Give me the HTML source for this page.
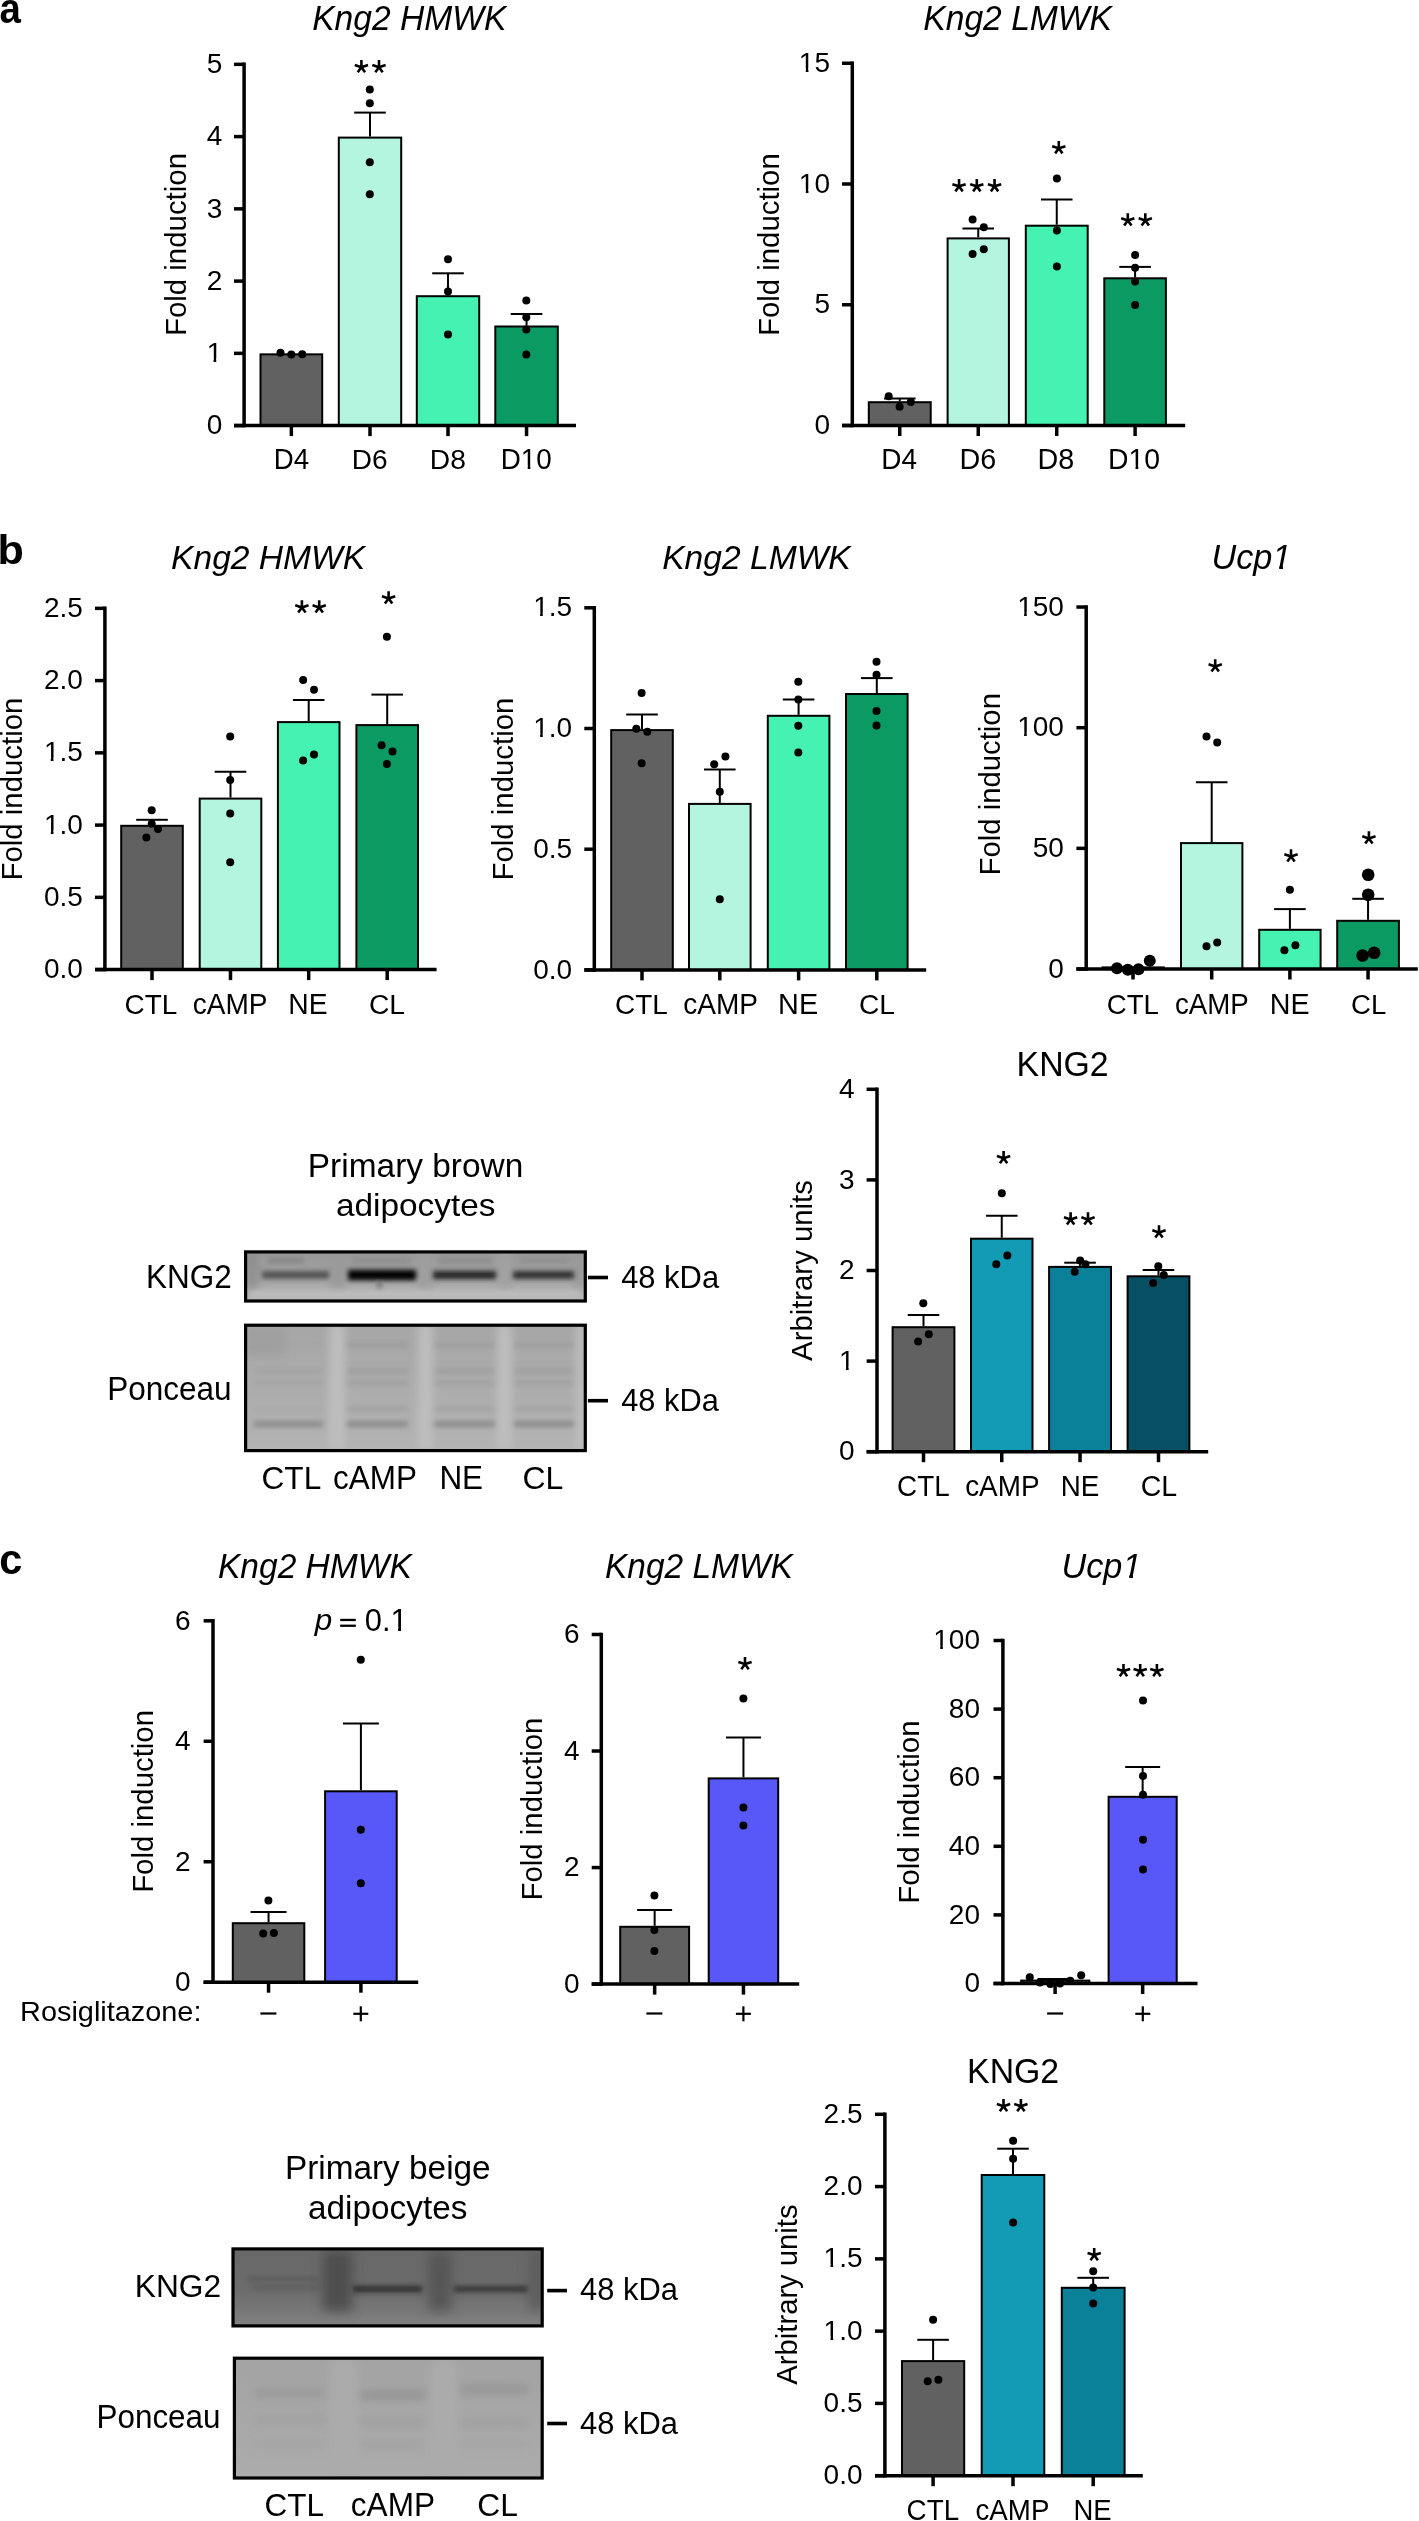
<!DOCTYPE html>
<html><head><meta charset="utf-8"><style>
html,body{margin:0;padding:0;background:#fff;}
svg{display:block;will-change:transform;}
text{font-family:"Liberation Sans",sans-serif;fill:#000;}
</style></head><body>
<svg width="1419" height="2521" viewBox="0 0 1419 2521">
<rect width="1419" height="2521" fill="#fff"/>
<text transform="translate(-0.59,23.10) scale(0.9133,1)" font-size="42.04" font-weight="bold">a</text>
<text transform="translate(-2.61,563.50) scale(1.0573,1)" font-size="40.83" font-weight="bold">b</text>
<text transform="translate(-0.81,1573.60) scale(0.9840,1)" font-size="42.22" font-weight="bold">c</text>
<rect x="260.50" y="354.35" width="61.70" height="71.25" fill="#616161" stroke="#000" stroke-width="2"/>
<rect x="338.80" y="137.60" width="62.40" height="288.00" fill="#b4f5df" stroke="#000" stroke-width="2"/>
<rect x="416.80" y="296.20" width="62.40" height="129.40" fill="#45f2b1" stroke="#000" stroke-width="2"/>
<rect x="495.30" y="326.50" width="62.50" height="99.10" fill="#0c9a63" stroke="#000" stroke-width="2"/>
<line x1="370.00" y1="136.60" x2="370.00" y2="112.60" stroke="#000" stroke-width="2"/>
<line x1="354.20" y1="112.60" x2="385.80" y2="112.60" stroke="#000" stroke-width="2"/>
<line x1="448.00" y1="295.20" x2="448.00" y2="273.30" stroke="#000" stroke-width="2"/>
<line x1="432.20" y1="273.30" x2="463.80" y2="273.30" stroke="#000" stroke-width="2"/>
<line x1="526.55" y1="325.50" x2="526.55" y2="313.90" stroke="#000" stroke-width="2"/>
<line x1="510.75" y1="313.90" x2="542.35" y2="313.90" stroke="#000" stroke-width="2"/>
<circle cx="280.50" cy="352.80" r="4"/>
<circle cx="291.30" cy="354.40" r="4"/>
<circle cx="302.20" cy="354.20" r="4"/>
<circle cx="369.80" cy="89.40" r="4"/>
<circle cx="369.80" cy="103.30" r="4"/>
<circle cx="369.80" cy="162.30" r="4"/>
<circle cx="369.80" cy="194.30" r="4"/>
<circle cx="448.00" cy="259.30" r="4"/>
<circle cx="448.00" cy="291.40" r="4"/>
<circle cx="448.00" cy="334.60" r="4"/>
<circle cx="526.30" cy="300.60" r="4"/>
<circle cx="526.30" cy="317.20" r="4"/>
<circle cx="526.30" cy="329.60" r="4"/>
<circle cx="526.30" cy="354.40" r="4"/>
<line x1="244.10" y1="62.60" x2="244.10" y2="427.35" stroke="#000" stroke-width="3.5"/>
<line x1="234.00" y1="425.60" x2="244.10" y2="425.60" stroke="#000" stroke-width="3.5"/>
<text transform="translate(206.64,434.36)" font-size="28.00">0</text>
<line x1="234.00" y1="353.35" x2="244.10" y2="353.35" stroke="#000" stroke-width="3.5"/>
<g transform="translate(206.64,362.11)"><text font-size="28.00">1</text><rect x="0.00" y="-3.50" width="6.92" height="4.62" fill="#fff"/><rect x="9.60" y="-3.50" width="6.50" height="4.62" fill="#fff"/></g>
<line x1="234.00" y1="281.10" x2="244.10" y2="281.10" stroke="#000" stroke-width="3.5"/>
<text transform="translate(206.64,290.00)" font-size="28.00">2</text>
<line x1="234.00" y1="208.85" x2="244.10" y2="208.85" stroke="#000" stroke-width="3.5"/>
<text transform="translate(206.64,217.61)" font-size="28.00">3</text>
<line x1="234.00" y1="136.60" x2="244.10" y2="136.60" stroke="#000" stroke-width="3.5"/>
<text transform="translate(206.64,145.36)" font-size="28.00">4</text>
<line x1="234.00" y1="64.35" x2="244.10" y2="64.35" stroke="#000" stroke-width="3.5"/>
<text transform="translate(206.64,72.97)" font-size="28.00">5</text>
<line x1="234.00" y1="425.60" x2="576.00" y2="425.60" stroke="#000" stroke-width="3.5"/>
<line x1="291.35" y1="425.60" x2="291.35" y2="436.10" stroke="#000" stroke-width="3.5"/>
<line x1="370.00" y1="425.60" x2="370.00" y2="436.10" stroke="#000" stroke-width="3.5"/>
<line x1="448.00" y1="425.60" x2="448.00" y2="436.10" stroke="#000" stroke-width="3.5"/>
<line x1="526.55" y1="425.60" x2="526.55" y2="436.10" stroke="#000" stroke-width="3.5"/>
<path d="M361.40,67.20L361.40,60.00M361.40,67.20L368.04,65.04M361.40,67.20L365.08,72.27M361.40,67.20L357.72,72.27M361.40,67.20L354.76,65.04" stroke="#000" stroke-width="2.6" fill="none"/>
<path d="M379.00,67.20L379.00,60.00M379.00,67.20L385.64,65.04M379.00,67.20L382.68,72.27M379.00,67.20L375.32,72.27M379.00,67.20L372.36,65.04" stroke="#000" stroke-width="2.6" fill="none"/>
<text transform="translate(273.69,469.40) scale(0.9536,1)" font-size="28.99">D4</text>
<text transform="translate(351.76,469.40) scale(0.9818,1)" font-size="28.57">D6</text>
<text transform="translate(429.84,469.40) scale(0.9879,1)" font-size="28.57">D8</text>
<g transform="translate(500.78,469.40) scale(0.9727,1)"><text font-size="28.57">D10</text><rect x="20.63" y="-3.57" width="7.06" height="4.71" fill="#fff"/><rect x="30.43" y="-3.57" width="6.63" height="4.71" fill="#fff"/></g>
<text transform="translate(312.19,29.90) scale(0.9800,1)" font-size="34.29" font-style="italic">Kng2 HMWK</text>
<text transform="translate(185.90,336.05) rotate(-90) scale(1.0105,1)" font-size="29.10" font-style="normal" font-weight="normal">Fold induction</text>
<rect x="868.80" y="402.20" width="61.90" height="23.30" fill="#616161" stroke="#000" stroke-width="2"/>
<rect x="947.60" y="238.40" width="61.30" height="187.10" fill="#b4f5df" stroke="#000" stroke-width="2"/>
<rect x="1025.80" y="225.70" width="61.90" height="199.80" fill="#45f2b1" stroke="#000" stroke-width="2"/>
<rect x="1104.30" y="278.30" width="61.60" height="147.20" fill="#0c9a63" stroke="#000" stroke-width="2"/>
<line x1="899.75" y1="401.20" x2="899.75" y2="398.60" stroke="#000" stroke-width="2"/>
<line x1="883.95" y1="398.60" x2="915.55" y2="398.60" stroke="#000" stroke-width="2"/>
<line x1="978.25" y1="237.40" x2="978.25" y2="228.60" stroke="#000" stroke-width="2"/>
<line x1="962.45" y1="228.60" x2="994.05" y2="228.60" stroke="#000" stroke-width="2"/>
<line x1="1056.75" y1="224.70" x2="1056.75" y2="199.60" stroke="#000" stroke-width="2"/>
<line x1="1040.95" y1="199.60" x2="1072.55" y2="199.60" stroke="#000" stroke-width="2"/>
<line x1="1135.10" y1="277.30" x2="1135.10" y2="266.90" stroke="#000" stroke-width="2"/>
<line x1="1119.30" y1="266.90" x2="1150.90" y2="266.90" stroke="#000" stroke-width="2"/>
<circle cx="888.70" cy="396.20" r="4"/>
<circle cx="899.60" cy="406.70" r="4"/>
<circle cx="910.80" cy="402.00" r="4"/>
<circle cx="972.60" cy="219.50" r="4"/>
<circle cx="983.80" cy="227.30" r="4"/>
<circle cx="983.80" cy="249.20" r="4"/>
<circle cx="972.60" cy="253.90" r="4"/>
<circle cx="1056.90" cy="178.50" r="4"/>
<circle cx="1056.90" cy="230.40" r="4"/>
<circle cx="1056.90" cy="266.40" r="4"/>
<circle cx="1135.10" cy="254.90" r="4"/>
<circle cx="1135.10" cy="267.70" r="4"/>
<circle cx="1135.10" cy="281.50" r="4"/>
<circle cx="1135.10" cy="305.00" r="4"/>
<line x1="852.30" y1="61.50" x2="852.30" y2="427.25" stroke="#000" stroke-width="3.5"/>
<line x1="842.00" y1="425.50" x2="852.30" y2="425.50" stroke="#000" stroke-width="3.5"/>
<text transform="translate(814.44,434.26)" font-size="28.00">0</text>
<line x1="842.00" y1="304.75" x2="852.30" y2="304.75" stroke="#000" stroke-width="3.5"/>
<text transform="translate(814.44,313.37)" font-size="28.00">5</text>
<line x1="842.00" y1="184.00" x2="852.30" y2="184.00" stroke="#000" stroke-width="3.5"/>
<g transform="translate(798.86,192.76)"><text font-size="28.00">10</text><rect x="0.00" y="-3.50" width="6.92" height="4.62" fill="#fff"/><rect x="9.60" y="-3.50" width="6.50" height="4.62" fill="#fff"/></g>
<line x1="842.00" y1="63.25" x2="852.30" y2="63.25" stroke="#000" stroke-width="3.5"/>
<g transform="translate(798.86,71.87)"><text font-size="28.00">15</text><rect x="0.00" y="-3.50" width="6.92" height="4.62" fill="#fff"/><rect x="9.60" y="-3.50" width="6.50" height="4.62" fill="#fff"/></g>
<line x1="842.00" y1="425.50" x2="1185.20" y2="425.50" stroke="#000" stroke-width="3.5"/>
<line x1="899.75" y1="425.50" x2="899.75" y2="436.00" stroke="#000" stroke-width="3.5"/>
<line x1="978.25" y1="425.50" x2="978.25" y2="436.00" stroke="#000" stroke-width="3.5"/>
<line x1="1056.75" y1="425.50" x2="1056.75" y2="436.00" stroke="#000" stroke-width="3.5"/>
<line x1="1135.10" y1="425.50" x2="1135.10" y2="436.00" stroke="#000" stroke-width="3.5"/>
<path d="M959.05,186.30L959.05,179.10M959.05,186.30L965.69,184.14M959.05,186.30L962.73,191.37M959.05,186.30L955.37,191.37M959.05,186.30L952.41,184.14" stroke="#000" stroke-width="2.6" fill="none"/>
<path d="M976.80,186.30L976.80,179.10M976.80,186.30L983.44,184.14M976.80,186.30L980.48,191.37M976.80,186.30L973.12,191.37M976.80,186.30L970.16,184.14" stroke="#000" stroke-width="2.6" fill="none"/>
<path d="M994.55,186.30L994.55,179.10M994.55,186.30L1001.19,184.14M994.55,186.30L998.23,191.37M994.55,186.30L990.87,191.37M994.55,186.30L987.91,184.14" stroke="#000" stroke-width="2.6" fill="none"/>
<path d="M1058.80,148.30L1058.80,141.10M1058.80,148.30L1065.44,146.14M1058.80,148.30L1062.48,153.37M1058.80,148.30L1055.12,153.37M1058.80,148.30L1052.16,146.14" stroke="#000" stroke-width="2.6" fill="none"/>
<path d="M1127.80,220.50L1127.80,213.30M1127.80,220.50L1134.44,218.34M1127.80,220.50L1131.48,225.57M1127.80,220.50L1124.12,225.57M1127.80,220.50L1121.16,218.34" stroke="#000" stroke-width="2.6" fill="none"/>
<path d="M1145.30,220.50L1145.30,213.30M1145.30,220.50L1151.94,218.34M1145.30,220.50L1148.98,225.57M1145.30,220.50L1141.62,225.57M1145.30,220.50L1138.66,218.34" stroke="#000" stroke-width="2.6" fill="none"/>
<text transform="translate(881.27,469.00) scale(0.9577,1)" font-size="29.13">D4</text>
<text transform="translate(959.41,469.00)" font-size="28.71">D6</text>
<text transform="translate(1037.61,469.00)" font-size="28.71">D8</text>
<g transform="translate(1108.03,469.00) scale(0.9881,1)"><text font-size="28.71">D10</text><rect x="20.74" y="-3.59" width="7.09" height="4.74" fill="#fff"/><rect x="30.59" y="-3.59" width="6.66" height="4.74" fill="#fff"/></g>
<text transform="translate(923.29,29.90) scale(0.9807,1)" font-size="34.29" font-style="italic">Kng2 LMWK</text>
<text transform="translate(779.00,335.95) rotate(-90) scale(1.0184,1)" font-size="28.83" font-style="normal" font-weight="normal">Fold induction</text>
<rect x="121.20" y="825.80" width="61.60" height="143.80" fill="#616161" stroke="#000" stroke-width="2"/>
<rect x="199.70" y="798.60" width="61.60" height="171.00" fill="#b4f5df" stroke="#000" stroke-width="2"/>
<rect x="277.90" y="722.10" width="61.60" height="247.50" fill="#45f2b1" stroke="#000" stroke-width="2"/>
<rect x="356.40" y="725.10" width="61.60" height="244.50" fill="#0c9a63" stroke="#000" stroke-width="2"/>
<line x1="152.00" y1="824.80" x2="152.00" y2="819.80" stroke="#000" stroke-width="2"/>
<line x1="136.20" y1="819.80" x2="167.80" y2="819.80" stroke="#000" stroke-width="2"/>
<line x1="230.50" y1="797.60" x2="230.50" y2="771.80" stroke="#000" stroke-width="2"/>
<line x1="214.70" y1="771.80" x2="246.30" y2="771.80" stroke="#000" stroke-width="2"/>
<line x1="308.70" y1="721.10" x2="308.70" y2="699.90" stroke="#000" stroke-width="2"/>
<line x1="292.90" y1="699.90" x2="324.50" y2="699.90" stroke="#000" stroke-width="2"/>
<line x1="387.20" y1="724.10" x2="387.20" y2="694.60" stroke="#000" stroke-width="2"/>
<line x1="371.40" y1="694.60" x2="403.00" y2="694.60" stroke="#000" stroke-width="2"/>
<circle cx="151.70" cy="810.20" r="4"/>
<circle cx="151.70" cy="823.80" r="4"/>
<circle cx="158.00" cy="829.10" r="4"/>
<circle cx="146.40" cy="837.40" r="4"/>
<circle cx="230.20" cy="736.40" r="4"/>
<circle cx="230.20" cy="780.10" r="4"/>
<circle cx="230.20" cy="813.50" r="4"/>
<circle cx="230.20" cy="862.20" r="4"/>
<circle cx="303.10" cy="680.00" r="4"/>
<circle cx="314.00" cy="689.70" r="4"/>
<circle cx="314.00" cy="754.60" r="4"/>
<circle cx="303.10" cy="760.50" r="4"/>
<circle cx="386.90" cy="636.70" r="4"/>
<circle cx="381.60" cy="745.30" r="4"/>
<circle cx="392.50" cy="751.60" r="4"/>
<circle cx="386.90" cy="763.90" r="4"/>
<line x1="104.90" y1="606.60" x2="104.90" y2="971.35" stroke="#000" stroke-width="3.5"/>
<line x1="95.00" y1="969.60" x2="104.90" y2="969.60" stroke="#000" stroke-width="3.5"/>
<text transform="translate(43.88,978.36)" font-size="28.00">0.0</text>
<line x1="95.00" y1="897.35" x2="104.90" y2="897.35" stroke="#000" stroke-width="3.5"/>
<text transform="translate(43.88,906.11)" font-size="28.00">0.5</text>
<line x1="95.00" y1="825.10" x2="104.90" y2="825.10" stroke="#000" stroke-width="3.5"/>
<g transform="translate(43.88,833.86)"><text font-size="28.00">1.0</text><rect x="0.00" y="-3.50" width="6.92" height="4.62" fill="#fff"/><rect x="9.60" y="-3.50" width="6.50" height="4.62" fill="#fff"/></g>
<line x1="95.00" y1="752.85" x2="104.90" y2="752.85" stroke="#000" stroke-width="3.5"/>
<g transform="translate(43.88,761.47)"><text font-size="28.00">1.5</text><rect x="0.00" y="-3.50" width="6.92" height="4.62" fill="#fff"/><rect x="9.60" y="-3.50" width="6.50" height="4.62" fill="#fff"/></g>
<line x1="95.00" y1="680.60" x2="104.90" y2="680.60" stroke="#000" stroke-width="3.5"/>
<text transform="translate(43.88,689.36)" font-size="28.00">2.0</text>
<line x1="95.00" y1="608.35" x2="104.90" y2="608.35" stroke="#000" stroke-width="3.5"/>
<text transform="translate(43.88,617.11)" font-size="28.00">2.5</text>
<line x1="95.00" y1="969.60" x2="436.60" y2="969.60" stroke="#000" stroke-width="3.5"/>
<line x1="152.00" y1="969.60" x2="152.00" y2="980.10" stroke="#000" stroke-width="3.5"/>
<line x1="230.50" y1="969.60" x2="230.50" y2="980.10" stroke="#000" stroke-width="3.5"/>
<line x1="308.70" y1="969.60" x2="308.70" y2="980.10" stroke="#000" stroke-width="3.5"/>
<line x1="387.20" y1="969.60" x2="387.20" y2="980.10" stroke="#000" stroke-width="3.5"/>
<path d="M301.90,607.40L301.90,600.20M301.90,607.40L308.54,605.24M301.90,607.40L305.58,612.47M301.90,607.40L298.22,612.47M301.90,607.40L295.26,605.24" stroke="#000" stroke-width="2.6" fill="none"/>
<path d="M319.20,607.40L319.20,600.20M319.20,607.40L325.84,605.24M319.20,607.40L322.88,612.47M319.20,607.40L315.52,612.47M319.20,607.40L312.56,605.24" stroke="#000" stroke-width="2.6" fill="none"/>
<path d="M388.60,598.50L388.60,591.30M388.60,598.50L395.24,596.34M388.60,598.50L392.28,603.57M388.60,598.50L384.92,603.57M388.60,598.50L381.96,596.34" stroke="#000" stroke-width="2.6" fill="none"/>
<text transform="translate(124.50,1013.60) scale(0.9834,1)" font-size="28.43">CTL</text>
<text transform="translate(192.68,1013.60) scale(0.9722,1)" font-size="28.84">cAMP</text>
<text transform="translate(288.24,1013.60) scale(0.9813,1)" font-size="28.84">NE</text>
<text transform="translate(368.89,1013.60) scale(0.9949,1)" font-size="28.43">CL</text>
<text transform="translate(171.09,568.80) scale(0.9919,1)" font-size="33.86" font-style="italic">Kng2 HMWK</text>
<text transform="translate(22.20,880.45) rotate(-90) scale(1.0022,1)" font-size="29.31" font-style="normal" font-weight="normal">Fold induction</text>
<rect x="611.20" y="730.10" width="61.60" height="239.80" fill="#616161" stroke="#000" stroke-width="2"/>
<rect x="689.00" y="803.90" width="61.60" height="166.00" fill="#b4f5df" stroke="#000" stroke-width="2"/>
<rect x="767.80" y="715.80" width="61.60" height="254.10" fill="#45f2b1" stroke="#000" stroke-width="2"/>
<rect x="846.00" y="694.00" width="61.60" height="275.90" fill="#0c9a63" stroke="#000" stroke-width="2"/>
<line x1="642.00" y1="729.10" x2="642.00" y2="714.50" stroke="#000" stroke-width="2"/>
<line x1="626.20" y1="714.50" x2="657.80" y2="714.50" stroke="#000" stroke-width="2"/>
<line x1="719.80" y1="802.90" x2="719.80" y2="769.50" stroke="#000" stroke-width="2"/>
<line x1="704.00" y1="769.50" x2="735.60" y2="769.50" stroke="#000" stroke-width="2"/>
<line x1="798.60" y1="714.80" x2="798.60" y2="699.60" stroke="#000" stroke-width="2"/>
<line x1="782.80" y1="699.60" x2="814.40" y2="699.60" stroke="#000" stroke-width="2"/>
<line x1="876.80" y1="693.00" x2="876.80" y2="678.10" stroke="#000" stroke-width="2"/>
<line x1="861.00" y1="678.10" x2="892.60" y2="678.10" stroke="#000" stroke-width="2"/>
<circle cx="641.60" cy="693.00" r="4"/>
<circle cx="636.30" cy="728.70" r="4"/>
<circle cx="647.30" cy="731.70" r="4"/>
<circle cx="641.60" cy="763.20" r="4"/>
<circle cx="725.40" cy="756.60" r="4"/>
<circle cx="714.20" cy="764.20" r="4"/>
<circle cx="719.80" cy="791.70" r="4"/>
<circle cx="719.80" cy="899.30" r="4"/>
<circle cx="798.30" cy="681.70" r="4"/>
<circle cx="798.30" cy="699.60" r="4"/>
<circle cx="798.30" cy="725.80" r="4"/>
<circle cx="798.30" cy="752.60" r="4"/>
<circle cx="876.50" cy="661.80" r="4"/>
<circle cx="876.50" cy="674.80" r="4"/>
<circle cx="876.50" cy="710.90" r="4"/>
<circle cx="876.50" cy="725.40" r="4"/>
<line x1="594.30" y1="606.05" x2="594.30" y2="971.65" stroke="#000" stroke-width="3.5"/>
<line x1="584.30" y1="969.90" x2="594.30" y2="969.90" stroke="#000" stroke-width="3.5"/>
<text transform="translate(533.18,978.66)" font-size="28.00">0.0</text>
<line x1="584.30" y1="849.20" x2="594.30" y2="849.20" stroke="#000" stroke-width="3.5"/>
<text transform="translate(533.18,857.96)" font-size="28.00">0.5</text>
<line x1="584.30" y1="728.50" x2="594.30" y2="728.50" stroke="#000" stroke-width="3.5"/>
<g transform="translate(533.18,737.26)"><text font-size="28.00">1.0</text><rect x="0.00" y="-3.50" width="6.92" height="4.62" fill="#fff"/><rect x="9.60" y="-3.50" width="6.50" height="4.62" fill="#fff"/></g>
<line x1="584.30" y1="607.80" x2="594.30" y2="607.80" stroke="#000" stroke-width="3.5"/>
<g transform="translate(533.18,616.42)"><text font-size="28.00">1.5</text><rect x="0.00" y="-3.50" width="6.92" height="4.62" fill="#fff"/><rect x="9.60" y="-3.50" width="6.50" height="4.62" fill="#fff"/></g>
<line x1="584.30" y1="969.90" x2="926.20" y2="969.90" stroke="#000" stroke-width="3.5"/>
<line x1="642.00" y1="969.90" x2="642.00" y2="980.40" stroke="#000" stroke-width="3.5"/>
<line x1="719.80" y1="969.90" x2="719.80" y2="980.40" stroke="#000" stroke-width="3.5"/>
<line x1="798.60" y1="969.90" x2="798.60" y2="980.40" stroke="#000" stroke-width="3.5"/>
<line x1="876.80" y1="969.90" x2="876.80" y2="980.40" stroke="#000" stroke-width="3.5"/>
<text transform="translate(615.10,1013.60) scale(0.9834,1)" font-size="28.43">CTL</text>
<text transform="translate(683.28,1013.60) scale(0.9722,1)" font-size="28.84">cAMP</text>
<text transform="translate(778.09,1013.60)" font-size="28.84">NE</text>
<text transform="translate(858.89,1013.60) scale(0.9920,1)" font-size="28.43">CL</text>
<text transform="translate(662.19,568.80) scale(0.9926,1)" font-size="33.86" font-style="italic">Kng2 LMWK</text>
<text transform="translate(513.20,880.45) rotate(-90) scale(1.0093,1)" font-size="29.10" font-style="normal" font-weight="normal">Fold induction</text>
<rect x="1102.50" y="967.40" width="61.30" height="1.60" fill="#616161" stroke="#000" stroke-width="2"/>
<rect x="1181.00" y="843.10" width="61.40" height="125.90" fill="#b4f5df" stroke="#000" stroke-width="2"/>
<rect x="1259.20" y="929.80" width="61.40" height="39.20" fill="#45f2b1" stroke="#000" stroke-width="2"/>
<rect x="1337.20" y="920.80" width="61.70" height="48.20" fill="#0c9a63" stroke="#000" stroke-width="2"/>
<line x1="1211.70" y1="842.10" x2="1211.70" y2="782.30" stroke="#000" stroke-width="2"/>
<line x1="1195.90" y1="782.30" x2="1227.50" y2="782.30" stroke="#000" stroke-width="2"/>
<line x1="1289.90" y1="928.80" x2="1289.90" y2="909.10" stroke="#000" stroke-width="2"/>
<line x1="1274.10" y1="909.10" x2="1305.70" y2="909.10" stroke="#000" stroke-width="2"/>
<line x1="1368.05" y1="919.80" x2="1368.05" y2="898.80" stroke="#000" stroke-width="2"/>
<line x1="1352.25" y1="898.80" x2="1383.85" y2="898.80" stroke="#000" stroke-width="2"/>
<circle cx="1117.00" cy="968.20" r="6"/>
<circle cx="1127.80" cy="969.80" r="6"/>
<circle cx="1138.50" cy="969.30" r="6"/>
<circle cx="1149.80" cy="960.80" r="6"/>
<circle cx="1206.50" cy="736.40" r="4"/>
<circle cx="1217.20" cy="742.50" r="4"/>
<circle cx="1217.20" cy="942.40" r="4"/>
<circle cx="1206.50" cy="946.30" r="4"/>
<circle cx="1289.90" cy="889.70" r="4"/>
<circle cx="1295.40" cy="945.30" r="4"/>
<circle cx="1284.40" cy="950.20" r="4"/>
<circle cx="1368.20" cy="874.70" r="6.3"/>
<circle cx="1368.20" cy="894.70" r="6.3"/>
<circle cx="1374.20" cy="952.80" r="6.3"/>
<circle cx="1362.60" cy="955.50" r="6.3"/>
<line x1="1086.20" y1="605.30" x2="1086.20" y2="970.75" stroke="#000" stroke-width="3.5"/>
<line x1="1076.40" y1="969.00" x2="1086.20" y2="969.00" stroke="#000" stroke-width="3.5"/>
<text transform="translate(1048.34,977.76)" font-size="28.00">0</text>
<line x1="1076.40" y1="848.35" x2="1086.20" y2="848.35" stroke="#000" stroke-width="3.5"/>
<text transform="translate(1032.76,857.11)" font-size="28.00">50</text>
<line x1="1076.40" y1="727.70" x2="1086.20" y2="727.70" stroke="#000" stroke-width="3.5"/>
<g transform="translate(1017.19,736.46)"><text font-size="28.00">100</text><rect x="0.00" y="-3.50" width="6.92" height="4.62" fill="#fff"/><rect x="9.60" y="-3.50" width="6.50" height="4.62" fill="#fff"/></g>
<line x1="1076.40" y1="607.05" x2="1086.20" y2="607.05" stroke="#000" stroke-width="3.5"/>
<g transform="translate(1017.19,615.81)"><text font-size="28.00">150</text><rect x="0.00" y="-3.50" width="6.92" height="4.62" fill="#fff"/><rect x="9.60" y="-3.50" width="6.50" height="4.62" fill="#fff"/></g>
<line x1="1076.40" y1="969.00" x2="1417.80" y2="969.00" stroke="#000" stroke-width="3.5"/>
<line x1="1133.00" y1="969.00" x2="1133.00" y2="979.50" stroke="#000" stroke-width="3.5"/>
<line x1="1211.70" y1="969.00" x2="1211.70" y2="979.50" stroke="#000" stroke-width="3.5"/>
<line x1="1289.90" y1="969.00" x2="1289.90" y2="979.50" stroke="#000" stroke-width="3.5"/>
<line x1="1368.05" y1="969.00" x2="1368.05" y2="979.50" stroke="#000" stroke-width="3.5"/>
<path d="M1215.20,666.40L1215.20,659.20M1215.20,666.40L1221.84,664.24M1215.20,666.40L1218.88,671.47M1215.20,666.40L1211.52,671.47M1215.20,666.40L1208.56,664.24" stroke="#000" stroke-width="2.6" fill="none"/>
<path d="M1291.00,856.40L1291.00,849.20M1291.00,856.40L1297.64,854.24M1291.00,856.40L1294.68,861.47M1291.00,856.40L1287.32,861.47M1291.00,856.40L1284.36,854.24" stroke="#000" stroke-width="2.6" fill="none"/>
<path d="M1368.90,838.40L1368.90,831.20M1368.90,838.40L1375.54,836.24M1368.90,838.40L1372.58,843.47M1368.90,838.40L1365.22,843.47M1368.90,838.40L1362.26,836.24" stroke="#000" stroke-width="2.6" fill="none"/>
<text transform="translate(1106.72,1013.60) scale(0.9698,1)" font-size="28.43">CTL</text>
<text transform="translate(1174.89,1013.60) scale(0.9587,1)" font-size="28.84">cAMP</text>
<text transform="translate(1269.80,1013.60) scale(0.9950,1)" font-size="28.84">NE</text>
<text transform="translate(1351.02,1013.60) scale(0.9714,1)" font-size="28.43">CL</text>
<g transform="translate(1211.53,568.80) scale(0.9964,1)"><text font-size="34.35" font-style="italic">Ucp1</text><rect x="61.08" y="-4.29" width="6.84" height="5.67" fill="#fff"/><rect x="71.70" y="-4.29" width="7.59" height="5.67" fill="#fff"/></g>
<text transform="translate(1000.00,875.44) rotate(-90) scale(1.0071,1)" font-size="29.10" font-style="normal" font-weight="normal">Fold induction</text>
<rect x="892.60" y="1327.20" width="61.80" height="124.50" fill="#616161" stroke="#000" stroke-width="2"/>
<rect x="971.00" y="1238.70" width="61.50" height="213.00" fill="#139bb5" stroke="#000" stroke-width="2"/>
<rect x="1049.10" y="1266.90" width="61.90" height="184.80" fill="#0a8099" stroke="#000" stroke-width="2"/>
<rect x="1127.60" y="1276.30" width="61.80" height="175.40" fill="#074f63" stroke="#000" stroke-width="2"/>
<line x1="923.50" y1="1326.20" x2="923.50" y2="1314.90" stroke="#000" stroke-width="2"/>
<line x1="907.70" y1="1314.90" x2="939.30" y2="1314.90" stroke="#000" stroke-width="2"/>
<line x1="1001.75" y1="1237.70" x2="1001.75" y2="1215.70" stroke="#000" stroke-width="2"/>
<line x1="985.95" y1="1215.70" x2="1017.55" y2="1215.70" stroke="#000" stroke-width="2"/>
<line x1="1080.05" y1="1265.90" x2="1080.05" y2="1262.70" stroke="#000" stroke-width="2"/>
<line x1="1064.25" y1="1262.70" x2="1095.85" y2="1262.70" stroke="#000" stroke-width="2"/>
<line x1="1158.50" y1="1275.30" x2="1158.50" y2="1270.10" stroke="#000" stroke-width="2"/>
<line x1="1142.70" y1="1270.10" x2="1174.30" y2="1270.10" stroke="#000" stroke-width="2"/>
<circle cx="923.30" cy="1303.20" r="4"/>
<circle cx="928.80" cy="1334.30" r="4"/>
<circle cx="918.10" cy="1341.50" r="4"/>
<circle cx="1001.80" cy="1193.30" r="4"/>
<circle cx="1007.30" cy="1255.60" r="4"/>
<circle cx="996.30" cy="1264.30" r="4"/>
<circle cx="1080.20" cy="1260.40" r="4"/>
<circle cx="1085.40" cy="1264.30" r="4"/>
<circle cx="1074.70" cy="1271.80" r="4"/>
<circle cx="1158.30" cy="1266.30" r="4"/>
<circle cx="1163.80" cy="1275.00" r="4"/>
<circle cx="1153.10" cy="1283.10" r="4"/>
<line x1="877.00" y1="1087.55" x2="877.00" y2="1453.45" stroke="#000" stroke-width="3.5"/>
<line x1="866.60" y1="1451.70" x2="877.00" y2="1451.70" stroke="#000" stroke-width="3.5"/>
<text transform="translate(839.04,1460.46)" font-size="28.00">0</text>
<line x1="866.60" y1="1361.10" x2="877.00" y2="1361.10" stroke="#000" stroke-width="3.5"/>
<g transform="translate(839.04,1369.86)"><text font-size="28.00">1</text><rect x="0.00" y="-3.50" width="6.92" height="4.62" fill="#fff"/><rect x="9.60" y="-3.50" width="6.50" height="4.62" fill="#fff"/></g>
<line x1="866.60" y1="1270.50" x2="877.00" y2="1270.50" stroke="#000" stroke-width="3.5"/>
<text transform="translate(839.04,1279.40)" font-size="28.00">2</text>
<line x1="866.60" y1="1179.90" x2="877.00" y2="1179.90" stroke="#000" stroke-width="3.5"/>
<text transform="translate(839.04,1188.66)" font-size="28.00">3</text>
<line x1="866.60" y1="1089.30" x2="877.00" y2="1089.30" stroke="#000" stroke-width="3.5"/>
<text transform="translate(839.04,1098.06)" font-size="28.00">4</text>
<line x1="866.60" y1="1451.70" x2="1208.20" y2="1451.70" stroke="#000" stroke-width="3.5"/>
<line x1="923.50" y1="1451.70" x2="923.50" y2="1462.20" stroke="#000" stroke-width="3.5"/>
<line x1="1001.75" y1="1451.70" x2="1001.75" y2="1462.20" stroke="#000" stroke-width="3.5"/>
<line x1="1080.05" y1="1451.70" x2="1080.05" y2="1462.20" stroke="#000" stroke-width="3.5"/>
<line x1="1158.50" y1="1451.70" x2="1158.50" y2="1462.20" stroke="#000" stroke-width="3.5"/>
<path d="M1003.60,1158.20L1003.60,1151.00M1003.60,1158.20L1010.24,1156.04M1003.60,1158.20L1007.28,1163.27M1003.60,1158.20L999.92,1163.27M1003.60,1158.20L996.96,1156.04" stroke="#000" stroke-width="2.6" fill="none"/>
<path d="M1070.60,1219.50L1070.60,1212.30M1070.60,1219.50L1077.24,1217.34M1070.60,1219.50L1074.28,1224.57M1070.60,1219.50L1066.92,1224.57M1070.60,1219.50L1063.96,1217.34" stroke="#000" stroke-width="2.6" fill="none"/>
<path d="M1088.00,1219.50L1088.00,1212.30M1088.00,1219.50L1094.64,1217.34M1088.00,1219.50L1091.68,1224.57M1088.00,1219.50L1084.32,1224.57M1088.00,1219.50L1081.36,1217.34" stroke="#000" stroke-width="2.6" fill="none"/>
<path d="M1159.00,1232.40L1159.00,1225.20M1159.00,1232.40L1165.64,1230.24M1159.00,1232.40L1162.68,1237.47M1159.00,1232.40L1155.32,1237.47M1159.00,1232.40L1152.36,1230.24" stroke="#000" stroke-width="2.6" fill="none"/>
<text transform="translate(897.11,1495.60) scale(0.9678,1)" font-size="28.71">CTL</text>
<text transform="translate(965.18,1495.60) scale(0.9572,1)" font-size="29.13">cAMP</text>
<text transform="translate(1060.77,1495.60) scale(0.9552,1)" font-size="29.13">NE</text>
<text transform="translate(1140.67,1495.60) scale(0.9938,1)" font-size="28.71">CL</text>
<text transform="translate(1016.59,1076.00) scale(0.9865,1)" font-size="34.29">KNG2</text>
<text transform="translate(812.00,1360.90) rotate(-90) scale(0.9975,1)" font-size="29.38" font-style="normal" font-weight="normal">Arbitrary units</text>
<rect x="232.80" y="1923.20" width="71.50" height="59.00" fill="#616161" stroke="#000" stroke-width="2"/>
<rect x="325.10" y="1791.30" width="71.60" height="190.90" fill="#5858f8" stroke="#000" stroke-width="2"/>
<line x1="268.55" y1="1922.20" x2="268.55" y2="1911.90" stroke="#000" stroke-width="2"/>
<line x1="250.55" y1="1911.90" x2="286.55" y2="1911.90" stroke="#000" stroke-width="2"/>
<line x1="360.90" y1="1790.30" x2="360.90" y2="1723.50" stroke="#000" stroke-width="2"/>
<line x1="342.90" y1="1723.50" x2="378.90" y2="1723.50" stroke="#000" stroke-width="2"/>
<circle cx="268.40" cy="1900.50" r="4"/>
<circle cx="263.20" cy="1933.60" r="4"/>
<circle cx="273.90" cy="1932.90" r="4"/>
<circle cx="360.80" cy="1659.70" r="4"/>
<circle cx="360.80" cy="1829.80" r="4"/>
<circle cx="360.80" cy="1883.30" r="4"/>
<line x1="213.00" y1="1619.07" x2="213.00" y2="1983.95" stroke="#000" stroke-width="3.5"/>
<line x1="203.60" y1="1982.20" x2="213.00" y2="1982.20" stroke="#000" stroke-width="3.5"/>
<text transform="translate(175.04,1990.96)" font-size="28.00">0</text>
<line x1="203.60" y1="1861.74" x2="213.00" y2="1861.74" stroke="#000" stroke-width="3.5"/>
<text transform="translate(175.04,1870.64)" font-size="28.00">2</text>
<line x1="203.60" y1="1741.28" x2="213.00" y2="1741.28" stroke="#000" stroke-width="3.5"/>
<text transform="translate(175.04,1750.04)" font-size="28.00">4</text>
<line x1="203.60" y1="1620.82" x2="213.00" y2="1620.82" stroke="#000" stroke-width="3.5"/>
<text transform="translate(175.04,1629.58)" font-size="28.00">6</text>
<line x1="203.60" y1="1982.20" x2="418.20" y2="1982.20" stroke="#000" stroke-width="3.5"/>
<line x1="268.55" y1="1982.20" x2="268.55" y2="1992.70" stroke="#000" stroke-width="3.5"/>
<line x1="360.90" y1="1982.20" x2="360.90" y2="1992.70" stroke="#000" stroke-width="3.5"/>
<text transform="translate(217.99,1578.30) scale(0.9779,1)" font-size="34.29" font-style="italic">Kng2 HMWK</text>
<text transform="translate(152.80,1892.85) rotate(-90) scale(0.9906,1)" font-size="29.66" font-style="normal" font-weight="normal">Fold induction</text>
<rect x="620.20" y="1926.80" width="68.90" height="57.30" fill="#616161" stroke="#000" stroke-width="2"/>
<rect x="708.70" y="1778.40" width="69.50" height="205.70" fill="#5858f8" stroke="#000" stroke-width="2"/>
<line x1="654.65" y1="1925.80" x2="654.65" y2="1909.90" stroke="#000" stroke-width="2"/>
<line x1="637.15" y1="1909.90" x2="672.15" y2="1909.90" stroke="#000" stroke-width="2"/>
<line x1="743.45" y1="1777.40" x2="743.45" y2="1737.50" stroke="#000" stroke-width="2"/>
<line x1="725.95" y1="1737.50" x2="760.95" y2="1737.50" stroke="#000" stroke-width="2"/>
<circle cx="654.40" cy="1895.60" r="4"/>
<circle cx="654.40" cy="1930.00" r="4"/>
<circle cx="654.40" cy="1951.10" r="4"/>
<circle cx="743.40" cy="1698.50" r="4"/>
<circle cx="743.40" cy="1807.60" r="4"/>
<circle cx="743.40" cy="1825.50" r="4"/>
<line x1="601.30" y1="1632.73" x2="601.30" y2="1985.85" stroke="#000" stroke-width="3.5"/>
<line x1="591.70" y1="1984.10" x2="601.30" y2="1984.10" stroke="#000" stroke-width="3.5"/>
<text transform="translate(563.94,1992.86)" font-size="28.00">0</text>
<line x1="591.70" y1="1867.56" x2="601.30" y2="1867.56" stroke="#000" stroke-width="3.5"/>
<text transform="translate(563.94,1876.46)" font-size="28.00">2</text>
<line x1="591.70" y1="1751.02" x2="601.30" y2="1751.02" stroke="#000" stroke-width="3.5"/>
<text transform="translate(563.94,1759.78)" font-size="28.00">4</text>
<line x1="591.70" y1="1634.48" x2="601.30" y2="1634.48" stroke="#000" stroke-width="3.5"/>
<text transform="translate(563.94,1643.24)" font-size="28.00">6</text>
<line x1="591.70" y1="1984.10" x2="799.20" y2="1984.10" stroke="#000" stroke-width="3.5"/>
<line x1="654.65" y1="1984.10" x2="654.65" y2="1994.60" stroke="#000" stroke-width="3.5"/>
<line x1="743.45" y1="1984.10" x2="743.45" y2="1994.60" stroke="#000" stroke-width="3.5"/>
<path d="M745.00,1664.10L745.00,1656.90M745.00,1664.10L751.64,1661.94M745.00,1664.10L748.68,1669.17M745.00,1664.10L741.32,1669.17M745.00,1664.10L738.36,1661.94" stroke="#000" stroke-width="2.6" fill="none"/>
<text transform="translate(605.00,1578.30) scale(0.9760,1)" font-size="34.29" font-style="italic">Kng2 LMWK</text>
<text transform="translate(542.00,1900.45) rotate(-90) scale(1.0239,1)" font-size="28.69" font-style="normal" font-weight="normal">Fold induction</text>
<rect x="1021.20" y="1980.60" width="68.10" height="2.90" fill="#616161" stroke="#000" stroke-width="2"/>
<rect x="1108.60" y="1796.80" width="68.10" height="186.70" fill="#5858f8" stroke="#000" stroke-width="2"/>
<line x1="1055.10" y1="1979.60" x2="1055.10" y2="1979.10" stroke="#000" stroke-width="2"/>
<line x1="1037.60" y1="1979.10" x2="1072.60" y2="1979.10" stroke="#000" stroke-width="2"/>
<line x1="1142.65" y1="1795.80" x2="1142.65" y2="1766.90" stroke="#000" stroke-width="2"/>
<line x1="1125.15" y1="1766.90" x2="1160.15" y2="1766.90" stroke="#000" stroke-width="2"/>
<circle cx="1029.80" cy="1977.20" r="4"/>
<circle cx="1040.00" cy="1982.50" r="4"/>
<circle cx="1050.40" cy="1984.10" r="4"/>
<circle cx="1060.00" cy="1983.50" r="4"/>
<circle cx="1070.20" cy="1980.80" r="4"/>
<circle cx="1081.20" cy="1975.30" r="4"/>
<circle cx="1143.00" cy="1700.40" r="4"/>
<circle cx="1143.00" cy="1776.00" r="4"/>
<circle cx="1143.00" cy="1794.70" r="4"/>
<circle cx="1143.00" cy="1839.80" r="4"/>
<circle cx="1143.00" cy="1869.50" r="4"/>
<line x1="1002.90" y1="1638.75" x2="1002.90" y2="1985.25" stroke="#000" stroke-width="3.5"/>
<line x1="993.50" y1="1983.50" x2="1002.90" y2="1983.50" stroke="#000" stroke-width="3.5"/>
<text transform="translate(964.44,1992.26)" font-size="28.00">0</text>
<line x1="993.50" y1="1914.90" x2="1002.90" y2="1914.90" stroke="#000" stroke-width="3.5"/>
<text transform="translate(948.86,1923.66)" font-size="28.00">20</text>
<line x1="993.50" y1="1846.30" x2="1002.90" y2="1846.30" stroke="#000" stroke-width="3.5"/>
<text transform="translate(948.86,1855.06)" font-size="28.00">40</text>
<line x1="993.50" y1="1777.70" x2="1002.90" y2="1777.70" stroke="#000" stroke-width="3.5"/>
<text transform="translate(948.86,1786.46)" font-size="28.00">60</text>
<line x1="993.50" y1="1709.10" x2="1002.90" y2="1709.10" stroke="#000" stroke-width="3.5"/>
<text transform="translate(948.86,1717.86)" font-size="28.00">80</text>
<line x1="993.50" y1="1640.50" x2="1002.90" y2="1640.50" stroke="#000" stroke-width="3.5"/>
<g transform="translate(933.29,1649.26)"><text font-size="28.00">100</text><rect x="0.00" y="-3.50" width="6.92" height="4.62" fill="#fff"/><rect x="9.60" y="-3.50" width="6.50" height="4.62" fill="#fff"/></g>
<line x1="993.50" y1="1983.50" x2="1197.50" y2="1983.50" stroke="#000" stroke-width="3.5"/>
<line x1="1055.10" y1="1983.50" x2="1055.10" y2="1994.00" stroke="#000" stroke-width="3.5"/>
<line x1="1142.65" y1="1983.50" x2="1142.65" y2="1994.00" stroke="#000" stroke-width="3.5"/>
<path d="M1123.50,1671.10L1123.50,1663.90M1123.50,1671.10L1130.14,1668.94M1123.50,1671.10L1127.18,1676.17M1123.50,1671.10L1119.82,1676.17M1123.50,1671.10L1116.86,1668.94" stroke="#000" stroke-width="2.6" fill="none"/>
<path d="M1140.20,1671.10L1140.20,1663.90M1140.20,1671.10L1146.84,1668.94M1140.20,1671.10L1143.88,1676.17M1140.20,1671.10L1136.52,1676.17M1140.20,1671.10L1133.56,1668.94" stroke="#000" stroke-width="2.6" fill="none"/>
<path d="M1156.90,1671.10L1156.90,1663.90M1156.90,1671.10L1163.54,1668.94M1156.90,1671.10L1160.58,1676.17M1156.90,1671.10L1153.22,1676.17M1156.90,1671.10L1150.26,1668.94" stroke="#000" stroke-width="2.6" fill="none"/>
<g transform="translate(1061.53,1578.30) scale(0.9840,1)"><text font-size="34.78" font-style="italic">Ucp1</text><rect x="61.85" y="-4.35" width="6.92" height="5.74" fill="#fff"/><rect x="72.60" y="-4.35" width="7.69" height="5.74" fill="#fff"/></g>
<text transform="translate(919.00,1903.66) rotate(-90) scale(1.0116,1)" font-size="29.10" font-style="normal" font-weight="normal">Fold induction</text>
<rect x="902.00" y="2361.10" width="62.20" height="114.60" fill="#616161" stroke="#000" stroke-width="2"/>
<rect x="981.70" y="2175.00" width="62.60" height="300.70" fill="#139bb5" stroke="#000" stroke-width="2"/>
<rect x="1061.80" y="2287.80" width="62.80" height="187.90" fill="#0a8099" stroke="#000" stroke-width="2"/>
<line x1="933.10" y1="2360.10" x2="933.10" y2="2339.80" stroke="#000" stroke-width="2"/>
<line x1="917.30" y1="2339.80" x2="948.90" y2="2339.80" stroke="#000" stroke-width="2"/>
<line x1="1013.00" y1="2174.00" x2="1013.00" y2="2148.70" stroke="#000" stroke-width="2"/>
<line x1="997.20" y1="2148.70" x2="1028.80" y2="2148.70" stroke="#000" stroke-width="2"/>
<line x1="1093.20" y1="2286.80" x2="1093.20" y2="2277.80" stroke="#000" stroke-width="2"/>
<line x1="1077.40" y1="2277.80" x2="1109.00" y2="2277.80" stroke="#000" stroke-width="2"/>
<circle cx="933.10" cy="2319.80" r="4"/>
<circle cx="927.70" cy="2381.20" r="4"/>
<circle cx="938.40" cy="2379.80" r="4"/>
<circle cx="1013.10" cy="2140.80" r="4"/>
<circle cx="1013.10" cy="2158.80" r="4"/>
<circle cx="1013.10" cy="2222.50" r="4"/>
<circle cx="1093.20" cy="2271.30" r="4"/>
<circle cx="1093.20" cy="2287.60" r="4"/>
<circle cx="1093.20" cy="2303.40" r="4"/>
<line x1="884.90" y1="2112.55" x2="884.90" y2="2477.45" stroke="#000" stroke-width="3.5"/>
<line x1="875.00" y1="2475.70" x2="884.90" y2="2475.70" stroke="#000" stroke-width="3.5"/>
<text transform="translate(823.58,2484.46)" font-size="28.00">0.0</text>
<line x1="875.00" y1="2403.42" x2="884.90" y2="2403.42" stroke="#000" stroke-width="3.5"/>
<text transform="translate(823.58,2412.18)" font-size="28.00">0.5</text>
<line x1="875.00" y1="2331.14" x2="884.90" y2="2331.14" stroke="#000" stroke-width="3.5"/>
<g transform="translate(823.58,2339.90)"><text font-size="28.00">1.0</text><rect x="0.00" y="-3.50" width="6.92" height="4.62" fill="#fff"/><rect x="9.60" y="-3.50" width="6.50" height="4.62" fill="#fff"/></g>
<line x1="875.00" y1="2258.86" x2="884.90" y2="2258.86" stroke="#000" stroke-width="3.5"/>
<g transform="translate(823.58,2267.48)"><text font-size="28.00">1.5</text><rect x="0.00" y="-3.50" width="6.92" height="4.62" fill="#fff"/><rect x="9.60" y="-3.50" width="6.50" height="4.62" fill="#fff"/></g>
<line x1="875.00" y1="2186.58" x2="884.90" y2="2186.58" stroke="#000" stroke-width="3.5"/>
<text transform="translate(823.58,2195.34)" font-size="28.00">2.0</text>
<line x1="875.00" y1="2114.30" x2="884.90" y2="2114.30" stroke="#000" stroke-width="3.5"/>
<text transform="translate(823.58,2123.06)" font-size="28.00">2.5</text>
<line x1="875.00" y1="2475.70" x2="1142.80" y2="2475.70" stroke="#000" stroke-width="3.5"/>
<line x1="933.10" y1="2475.70" x2="933.10" y2="2486.20" stroke="#000" stroke-width="3.5"/>
<line x1="1013.00" y1="2475.70" x2="1013.00" y2="2486.20" stroke="#000" stroke-width="3.5"/>
<line x1="1093.20" y1="2475.70" x2="1093.20" y2="2486.20" stroke="#000" stroke-width="3.5"/>
<path d="M1003.50,2106.20L1003.50,2099.00M1003.50,2106.20L1010.14,2104.04M1003.50,2106.20L1007.18,2111.27M1003.50,2106.20L999.82,2111.27M1003.50,2106.20L996.86,2104.04" stroke="#000" stroke-width="2.6" fill="none"/>
<path d="M1020.90,2106.20L1020.90,2099.00M1020.90,2106.20L1027.54,2104.04M1020.90,2106.20L1024.58,2111.27M1020.90,2106.20L1017.22,2111.27M1020.90,2106.20L1014.26,2104.04" stroke="#000" stroke-width="2.6" fill="none"/>
<path d="M1094.20,2255.10L1094.20,2247.90M1094.20,2255.10L1100.84,2252.94M1094.20,2255.10L1097.88,2260.17M1094.20,2255.10L1090.52,2260.17M1094.20,2255.10L1087.56,2252.94" stroke="#000" stroke-width="2.6" fill="none"/>
<text transform="translate(906.61,2519.60) scale(0.9697,1)" font-size="28.71">CTL</text>
<text transform="translate(975.49,2519.60) scale(0.9519,1)" font-size="29.13">cAMP</text>
<text transform="translate(1073.50,2519.60) scale(0.9444,1)" font-size="29.13">NE</text>
<text transform="translate(967.09,2082.90) scale(0.9703,1)" font-size="34.86">KNG2</text>
<text transform="translate(797.00,2384.70) rotate(-90) scale(0.9953,1)" font-size="29.38" font-style="normal" font-weight="normal">Arbitrary units</text>
<defs><filter id="bl2" x="-20%" y="-80%" width="140%" height="260%"><feGaussianBlur stdDeviation="1.8"/></filter><filter id="bl3" x="-20%" y="-80%" width="140%" height="260%"><feGaussianBlur stdDeviation="2.6"/></filter><filter id="bl5" x="-50%" y="-50%" width="200%" height="200%"><feGaussianBlur stdDeviation="4.5"/></filter><filter id="bl7" x="-50%" y="-50%" width="200%" height="200%"><feGaussianBlur stdDeviation="6"/></filter><linearGradient id="gk1" x1="0" y1="0" x2="0" y2="1"><stop offset="0" stop-color="#979797"/><stop offset="0.5" stop-color="#a2a2a2"/><stop offset="0.8" stop-color="#b2b2b2"/><stop offset="1" stop-color="#b6b6b6"/></linearGradient><linearGradient id="gp1" x1="0" y1="0" x2="0" y2="1"><stop offset="0" stop-color="#a6a6a6"/><stop offset="0.85" stop-color="#b1b1b1"/><stop offset="1" stop-color="#b4b4b4"/></linearGradient><linearGradient id="gk2" x1="0" y1="0" x2="0" y2="1"><stop offset="0" stop-color="#686868"/><stop offset="0.5" stop-color="#6b6b6b"/><stop offset="0.78" stop-color="#777"/><stop offset="1" stop-color="#838383"/></linearGradient><linearGradient id="gp2" x1="0" y1="0" x2="0" y2="1"><stop offset="0" stop-color="#a3a3a3"/><stop offset="1" stop-color="#acacac"/></linearGradient><clipPath id="cb1"><rect x="245.5" y="1251.8" width="339.9" height="49.2"/></clipPath><clipPath id="cb2"><rect x="245.5" y="1325.1" width="339.9" height="125.6"/></clipPath><clipPath id="cc1"><rect x="233" y="2248.9" width="309.2" height="77"/></clipPath><clipPath id="cc2"><rect x="234.4" y="2358.2" width="307.8" height="119.8"/></clipPath></defs>
<g clip-path="url(#cb1)"><rect x="244" y="1250" width="343" height="53" fill="url(#gk1)"/>
<g filter="url(#bl5)">
<rect x="246" y="1252" width="12" height="36" fill="#8e8e8e"/>
<rect x="330" y="1252" width="16" height="36" fill="#9a9a9a"/>
<rect x="418" y="1252" width="14" height="36" fill="#9e9e9e"/>
<rect x="498" y="1252" width="14" height="36" fill="#a2a2a2"/>
<rect x="575" y="1252" width="11" height="36" fill="#999"/>
</g><g filter="url(#bl3)">
<rect x="268" y="1258.5" width="36" height="4.5" fill="#828282"/>
<rect x="352" y="1258.5" width="58" height="4.5" fill="#8b8b8b"/>
<rect x="438" y="1258.5" width="54" height="4.5" fill="#8a8a8a"/>
<rect x="520" y="1258.5" width="50" height="4.5" fill="#8e8e8e"/>
</g><g filter="url(#bl3)">
<rect x="262" y="1271.2" width="67" height="7.5" fill="#505050"/>
<rect x="348" y="1269.8" width="68" height="10.5" fill="#000"/>
<rect x="433" y="1271.0" width="63" height="8" fill="#222"/>
<rect x="513" y="1271.2" width="61" height="7.5" fill="#2b2b2b"/>
<circle cx="379.5" cy="1285.5" r="2.5" fill="#555"/>
</g><g filter="url(#bl3)">
<rect x="250" y="1291" width="330" height="6" fill="#c6c6c6" opacity="0.55"/>
</g></g>
<rect x="245.6" y="1251.9" width="339.7" height="49.1" fill="none" stroke="#000" stroke-width="3.2"/>
<g clip-path="url(#cb2)"><rect x="244" y="1323" width="343" height="130" fill="url(#gp1)"/>
<g filter="url(#bl5)">
<rect x="329" y="1325" width="16" height="126" fill="#bebebe"/>
<rect x="418" y="1325" width="15" height="126" fill="#bebebe"/>
<rect x="497" y="1325" width="15" height="126" fill="#bebebe"/>
<rect x="576" y="1325" width="10" height="126" fill="#bebebe"/>
<rect x="246" y="1326" width="40" height="30" fill="#9c9c9c" opacity="0.7"/>
</g><g filter="url(#bl3)">
<rect x="254" y="1342.5" width="69" height="5" fill="#959595" opacity="0.2"/>
<rect x="347" y="1342.5" width="61" height="5" fill="#959595" opacity="0.6"/>
<rect x="434" y="1342.5" width="61" height="5" fill="#959595" opacity="0.55"/>
<rect x="514" y="1342.5" width="60" height="5" fill="#959595" opacity="0.55"/>
<rect x="254" y="1368.5" width="69" height="5" fill="#949494" opacity="0.35"/>
<rect x="347" y="1368.5" width="61" height="5" fill="#949494" opacity="0.6"/>
<rect x="434" y="1368.5" width="61" height="5" fill="#949494" opacity="0.55"/>
<rect x="514" y="1368.5" width="60" height="5" fill="#949494" opacity="0.55"/>
<rect x="254" y="1380.5" width="69" height="5" fill="#969696" opacity="0.3"/>
<rect x="347" y="1380.5" width="61" height="5" fill="#969696" opacity="0.55"/>
<rect x="434" y="1380.5" width="61" height="5" fill="#969696" opacity="0.5"/>
<rect x="514" y="1380.5" width="60" height="5" fill="#969696" opacity="0.5"/>
<rect x="254" y="1406.5" width="69" height="5" fill="#989898" opacity="0.2"/>
<rect x="347" y="1406.5" width="61" height="5" fill="#989898" opacity="0.55"/>
<rect x="434" y="1406.5" width="61" height="5" fill="#989898" opacity="0.5"/>
<rect x="514" y="1406.5" width="60" height="5" fill="#989898" opacity="0.5"/>
<rect x="254" y="1421.0" width="69" height="6" fill="#888" opacity="0.9"/>
<rect x="347" y="1421.0" width="61" height="6" fill="#888" opacity="0.9"/>
<rect x="434" y="1421.0" width="61" height="6" fill="#888" opacity="0.9"/>
<rect x="514" y="1421.0" width="60" height="6" fill="#888" opacity="0.9"/>
</g></g>
<rect x="245.6" y="1325.2" width="339.7" height="125.4" fill="none" stroke="#000" stroke-width="3.2"/>
<g clip-path="url(#cc1)"><rect x="231" y="2247" width="313" height="81" fill="url(#gk2)"/>
<g filter="url(#bl7)">
<rect x="323" y="2251" width="29" height="60" fill="#4e4e4e"/>
<rect x="428" y="2251" width="24" height="60" fill="#575757"/>
<rect x="530" y="2251" width="12" height="60" fill="#5a5a5a"/>
</g><g filter="url(#bl3)">
<rect x="247" y="2277" width="72" height="3.5" fill="#575757"/>
<rect x="253" y="2286" width="66" height="3.5" fill="#5a5a5a"/>
<rect x="353" y="2286" width="69" height="6" fill="#2c2c2c"/>
<rect x="454" y="2286" width="74" height="6" fill="#363636"/>
</g></g>
<rect x="233" y="2248.9" width="309.2" height="77" fill="none" stroke="#000" stroke-width="3.2"/>
<g clip-path="url(#cc2)"><rect x="231" y="2355" width="313" height="126" fill="url(#gp2)"/>
<g filter="url(#bl5)">
<rect x="331" y="2360" width="26" height="118" fill="#ababab"/>
<rect x="430" y="2360" width="28" height="118" fill="#ababab"/>
</g><g filter="url(#bl5)">
<rect x="254" y="2389.0" width="71" height="8" fill="#959595" opacity="0.8"/>
<rect x="361" y="2391.0" width="64" height="8" fill="#8f8f8f" opacity="0.9"/>
<rect x="460" y="2384.5" width="69" height="9" fill="#939393" opacity="0.9"/>
<rect x="254" y="2417.0" width="71" height="6" fill="#9a9a9a" opacity="0.7"/>
<rect x="361" y="2419.0" width="64" height="6" fill="#999" opacity="0.8"/>
<rect x="460" y="2420.0" width="69" height="6" fill="#999" opacity="0.8"/>
<rect x="254" y="2442.5" width="71" height="5" fill="#9e9e9e" opacity="0.5"/>
<rect x="361" y="2442.5" width="64" height="5" fill="#9b9b9b" opacity="0.7"/>
<rect x="460" y="2441.5" width="69" height="5" fill="#9e9e9e" opacity="0.6"/>
</g></g>
<rect x="234.4" y="2358.2" width="307.8" height="119.8" fill="none" stroke="#000" stroke-width="3.2"/>
<text transform="translate(307.82,1177.20) scale(1.0103,1)" font-size="33.10">Primary brown</text>
<text transform="translate(335.97,1215.70) scale(1.0842,1)" font-size="30.76">adipocytes</text>
<text transform="translate(145.88,1288.00) scale(0.9589,1)" font-size="32.86">KNG2</text>
<text transform="translate(107.18,1400.10) scale(0.9583,1)" font-size="32.90">Ponceau</text>
<line x1="587.90" y1="1277.50" x2="608.00" y2="1277.50" stroke="#000" stroke-width="3.6"/>
<line x1="587.90" y1="1400.70" x2="608.00" y2="1400.70" stroke="#000" stroke-width="3.6"/>
<text transform="translate(621.18,1288.00)" font-size="30.90">48 kDa</text>
<text transform="translate(621.18,1411.20) scale(1.0062,1)" font-size="30.62">48 kDa</text>
<text transform="translate(261.52,1488.80) scale(0.9876,1)" font-size="32.00">CTL</text>
<text transform="translate(333.04,1488.80) scale(0.9690,1)" font-size="32.46">cAMP</text>
<text transform="translate(439.38,1488.80) scale(0.9692,1)" font-size="32.46">NE</text>
<text transform="translate(522.40,1488.80)" font-size="32.00">CL</text>
<text transform="translate(284.93,2178.80) scale(1.0294,1)" font-size="32.41">Primary beige</text>
<text transform="translate(308.07,2218.80) scale(1.0282,1)" font-size="32.41">adipocytes</text>
<text transform="translate(134.77,2297.20)" font-size="31.71">KNG2</text>
<text transform="translate(96.49,2428.10) scale(0.9636,1)" font-size="32.61">Ponceau</text>
<line x1="547.20" y1="2290.60" x2="567.00" y2="2290.60" stroke="#000" stroke-width="3.6"/>
<line x1="547.20" y1="2423.50" x2="567.00" y2="2423.50" stroke="#000" stroke-width="3.6"/>
<text transform="translate(580.08,2299.90) scale(1.0104,1)" font-size="30.62">48 kDa</text>
<text transform="translate(580.08,2433.60) scale(0.9969,1)" font-size="31.03">48 kDa</text>
<text transform="translate(264.53,2516.00) scale(0.9841,1)" font-size="32.00">CTL</text>
<text transform="translate(350.84,2516.00) scale(0.9726,1)" font-size="32.46">cAMP</text>
<text transform="translate(477.31,2516.00) scale(0.9937,1)" font-size="32.00">CL</text>
<text transform="translate(20.09,2021.10) scale(1.0524,1)" font-size="27.45">Rosiglitazone:</text>
<line x1="260.40" y1="2013.50" x2="276.40" y2="2013.50" stroke="#000" stroke-width="2.2"/>
<line x1="646.40" y1="2013.50" x2="662.40" y2="2013.50" stroke="#000" stroke-width="2.2"/>
<line x1="1047.10" y1="2013.50" x2="1063.10" y2="2013.50" stroke="#000" stroke-width="2.2"/>
<line x1="353.30" y1="2013.80" x2="368.30" y2="2013.80" stroke="#000" stroke-width="2.2"/>
<line x1="360.80" y1="2006.30" x2="360.80" y2="2021.30" stroke="#000" stroke-width="2.2"/>
<line x1="735.90" y1="2013.80" x2="750.90" y2="2013.80" stroke="#000" stroke-width="2.2"/>
<line x1="743.40" y1="2006.30" x2="743.40" y2="2021.30" stroke="#000" stroke-width="2.2"/>
<line x1="1135.30" y1="2013.80" x2="1150.30" y2="2013.80" stroke="#000" stroke-width="2.2"/>
<line x1="1142.80" y1="2006.30" x2="1142.80" y2="2021.30" stroke="#000" stroke-width="2.2"/>
<text transform="translate(314.79,1630.40) scale(1.0357,1)" font-size="30.37" font-style="italic">p</text>
<rect x="340.2" y="1618.8" width="15.6" height="2.3"/><rect x="340.2" y="1624.6" width="15.6" height="2.3"/>
<g transform="translate(364.77,1630.60) scale(0.9947,1)"><text font-size="31.00">0.1</text><rect x="25.85" y="-3.87" width="7.66" height="5.11" fill="#fff"/><rect x="36.49" y="-3.87" width="7.19" height="5.11" fill="#fff"/></g>
</svg></body></html>
